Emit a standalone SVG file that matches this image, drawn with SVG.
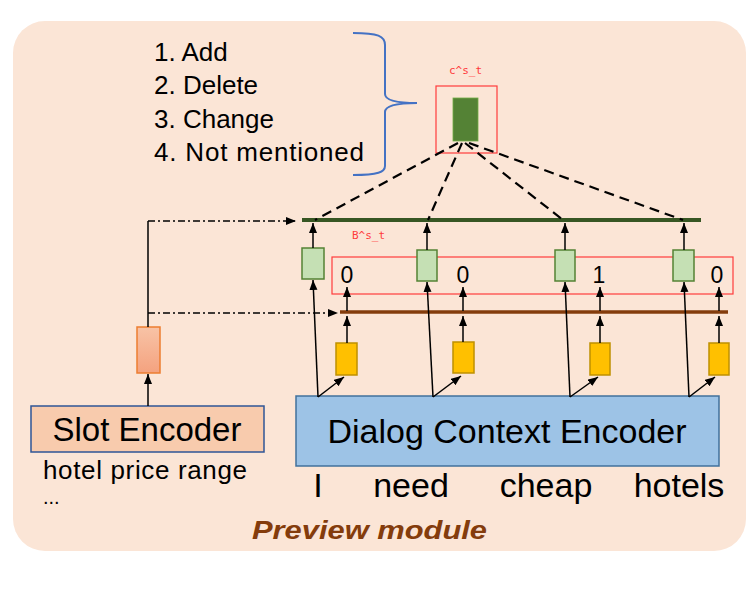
<svg xmlns="http://www.w3.org/2000/svg" width="756" height="601" viewBox="0 0 756 601">
<defs>
<marker id="ah" markerUnits="userSpaceOnUse" markerWidth="11" markerHeight="9" refX="10" refY="4" orient="auto">
<path d="M0,0 L10,4 L0,8 z" fill="#000"/>
</marker>
<linearGradient id="og" x1="0" y1="0" x2="0" y2="1">
<stop offset="0" stop-color="#f8c3a6"/>
<stop offset="1" stop-color="#f4a27f"/>
</linearGradient>
<style>
.t{font-family:"Liberation Sans",Arial,sans-serif;fill:#000}
.red{font-family:"DejaVu Sans Mono","Liberation Mono",monospace;font-size:11px;fill:#ff3b3b}
.gbox{fill:#c5e0b4;stroke:#548235;stroke-width:1.5}
.ybox{fill:#ffc000;stroke:#bf9000;stroke-width:1.5}
.arr{stroke:#000;stroke-width:1.5;fill:none;marker-end:url(#ah)}
.dash{stroke:#000;stroke-width:2.2;fill:none;stroke-dasharray:10,6}
.dd{stroke:#000;stroke-width:1.5;fill:none;stroke-dasharray:7,3,2,3;marker-end:url(#ah)}
.rbox{fill:none;stroke:#ff3b3b;stroke-width:1.2}
</style>
</defs>
<rect x="13" y="21" width="733" height="530" rx="32" fill="#fbe5d6"/>

<g id="options">
<text class="t" x="154" y="61" font-size="26">1. Add</text>
<text class="t" x="154" y="94" font-size="26">2. Delete</text>
<text class="t" x="154" y="128" font-size="26">3. Change</text>
<text class="t" x="154" y="161" font-size="26" textLength="210">4. Not mentioned</text>
</g>
<g id="brace">
<path d="M353,33 C378,33 385,36 385,45 L385,94 C385,100 395,103 417,103 C395,103 385,106 385,112 L385,166 C385,172 378,175 353,175" fill="none" stroke="#4472c4" stroke-width="2"/>
</g>

<g id="cst">
<text class="red" x="449" y="74">c^s_t</text>
<rect class="rbox" x="436" y="86" width="61" height="67"/>
<rect x="453" y="98" width="25" height="43" fill="#548235" stroke="#70ad47" stroke-width="0.8"/>
</g>

<g id="green-bar">
<line x1="302" y1="220" x2="701" y2="220" stroke="#375623" stroke-width="4"/>
</g>
<g id="bst">
<text class="red" x="352" y="239">B^s_t</text>
<rect class="rbox" x="332" y="257" width="401" height="37"/>
<text class="t" x="347" y="283" font-size="23" text-anchor="middle">0</text>
<text class="t" x="463" y="283" font-size="23" text-anchor="middle">0</text>
<text class="t" x="599" y="283" font-size="23" text-anchor="middle">1</text>
<text class="t" x="717" y="283" font-size="23" text-anchor="middle">0</text>
</g>
<g id="brown-bar">
<line x1="340" y1="312" x2="728" y2="312" stroke="#843c0c" stroke-width="3.5"/>
</g>

<g id="green1"><rect class="gbox" x="302" y="248" width="22" height="31"/></g>
<g id="green2"><rect class="gbox" x="417" y="250" width="20" height="31"/></g>
<g id="green3"><rect class="gbox" x="555" y="250" width="20" height="31"/></g>
<g id="green4"><rect class="gbox" x="673" y="250" width="21" height="31"/></g>

<g id="yellow1"><rect class="ybox" x="336" y="343" width="21" height="32"/></g>
<g id="yellow2"><rect class="ybox" x="453" y="342" width="21" height="31"/></g>
<g id="yellow3"><rect class="ybox" x="590" y="343" width="20" height="32"/></g>
<g id="yellow4"><rect class="ybox" x="709" y="343" width="20" height="32"/></g>

<g id="dialog-encoder">
<rect x="296" y="396" width="423" height="70" fill="#9dc3e6" stroke="#41719c" stroke-width="1.5"/>
<text class="t" x="507" y="443" font-size="34" text-anchor="middle">Dialog Context Encoder</text>
</g>
<g id="words">
<text class="t" x="318" y="497" font-size="34" text-anchor="middle">I</text>
<text class="t" x="411" y="497" font-size="34" text-anchor="middle">need</text>
<text class="t" x="546" y="497" font-size="34" text-anchor="middle">cheap</text>
<text class="t" x="679" y="497" font-size="34" text-anchor="middle">hotels</text>
</g>

<g id="orange-box"><rect x="137" y="327" width="23" height="46" fill="url(#og)" stroke="#ed7d31" stroke-width="1.5"/></g>
<g id="slot-encoder">
<rect x="31" y="406" width="233" height="46" fill="#f8cbad" stroke="#2f5597" stroke-width="1.5"/>
<text class="t" x="147" y="441" font-size="33" text-anchor="middle">Slot Encoder</text>
</g>
<g id="slot-text">
<text class="t" x="43" y="479" font-size="26" textLength="204">hotel price range</text>
<text class="t" x="43" y="504" font-size="20">...</text>
</g>

<g id="title">
<text x="252" y="539" font-family="'Liberation Sans',Arial,sans-serif" font-weight="bold" font-style="italic" font-size="26" fill="#843c0c" textLength="235" lengthAdjust="spacingAndGlyphs">Preview module</text>
</g>

<g id="connectors">
<line class="dash" x1="458" y1="143" x2="315" y2="220"/>
<line class="dash" x1="462" y1="143" x2="428" y2="220"/>
<line class="dash" x1="465" y1="143" x2="563" y2="220"/>
<line class="dash" x1="469" y1="143" x2="683" y2="220"/>

<line class="arr" x1="313" y1="248" x2="313" y2="223"/>
<line class="arr" x1="427" y1="250" x2="427" y2="223"/>
<line class="arr" x1="565" y1="250" x2="565" y2="223"/>
<line class="arr" x1="684" y1="250" x2="684" y2="223"/>

<line class="arr" x1="318" y1="397" x2="313" y2="280"/>
<line class="arr" x1="433" y1="397" x2="427" y2="282"/>
<line class="arr" x1="570" y1="397" x2="565" y2="282"/>
<line class="arr" x1="689" y1="397" x2="684" y2="282"/>

<line class="arr" x1="318" y1="397" x2="344" y2="377"/>
<line class="arr" x1="433" y1="397" x2="461" y2="376"/>
<line class="arr" x1="570" y1="397" x2="598" y2="377"/>
<line class="arr" x1="689" y1="397" x2="715" y2="377"/>

<line class="arr" x1="347" y1="343" x2="347" y2="316"/>
<line class="arr" x1="463" y1="342" x2="463" y2="316"/>
<line class="arr" x1="600" y1="343" x2="600" y2="316"/>
<line class="arr" x1="719" y1="343" x2="719" y2="316"/>

<line class="arr" x1="347" y1="311" x2="347" y2="287"/>
<line class="arr" x1="463" y1="311" x2="463" y2="287"/>
<line class="arr" x1="600" y1="311" x2="600" y2="287"/>
<line class="arr" x1="719" y1="311" x2="719" y2="287"/>

<line class="arr" x1="148" y1="406" x2="148" y2="374"/>
<line x1="148" y1="327" x2="148" y2="221" stroke="#000" stroke-width="1.5"/>
<line class="dd" x1="148" y1="221" x2="296" y2="221"/>
<line class="dd" x1="148" y1="313" x2="338" y2="313"/>
</g>
</svg>
